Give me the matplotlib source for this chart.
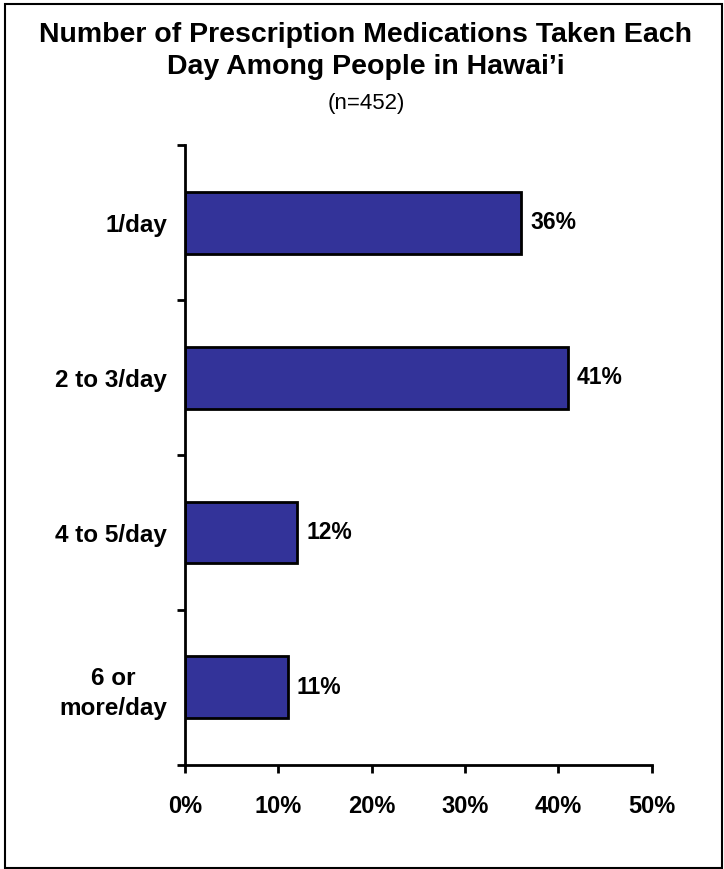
import matplotlib.pyplot as plt
from matplotlib.patches import Rectangle
import numpy as np

plt.rcParams['font.family'] = ['Liberation Sans', 'DejaVu Sans']

categories = ['1/day', '2 to 3/day', '4 to 5/day', '6 or\nmore/day']
percents = [36, 41, 12, 11]
xticks = [0, 10, 20, 30, 40, 50]

fig = plt.figure(figsize=(7.24, 8.69), dpi=100)
ax = fig.add_axes([0.2555, 0.1197, 0.6446, 0.7134])

pos = np.arange(len(categories))
ax.barh(pos, percents, height=0.4, color='#333399', edgecolor='black', linewidth=2)
for p, v in zip(pos, percents):
    ax.text(v + 1.0, p, '%d%%' % v, va='center', ha='left', fontsize=16.5, fontweight='bold')

ax.set_ylim(len(categories) - 0.5, -0.5)
ax.set_xlim(0, 50)

# category ticks sit between bars, labels at bar centres
ax.set_yticks(np.arange(-0.5, len(categories), 1.0))
ax.set_yticklabels([])
ax.tick_params(axis='y', which='major', length=6, width=2, direction='out')
ax.set_yticks(pos, minor=True)
ax.set_yticklabels(categories, minor=True, fontsize=17.5, fontweight='bold',
                   multialignment='center', linespacing=1.4)
ax.tick_params(axis='y', which='minor', length=0, pad=13)

ax.set_xticks(xticks)
ax.set_xticklabels(['%d%%' % t for t in xticks], fontsize=17, fontweight='bold')
ax.tick_params(axis='x', length=6, width=2, direction='out', pad=15.5)

for s in ['top', 'right']:
    ax.spines[s].set_visible(False)
for s in ['left', 'bottom']:
    ax.spines[s].set_linewidth(2)

fig.text(0.5055, 0.952, 'Number of Prescription Medications Taken Each', ha='center', va='baseline',
         fontsize=20.5, fontweight='bold')
fig.text(0.5055, 0.915, 'Day Among People in Hawai\u2019i', ha='center', va='baseline',
         fontsize=20.5, fontweight='bold')
fig.text(0.5055, 0.8746, '(n=452)', ha='center', va='baseline', fontsize=16)

fig.patches.append(Rectangle((0.0069, 0.0015), 0.990, 0.9940, transform=fig.transFigure,
                             fill=False, edgecolor='black', linewidth=1.5))

fig.savefig('out.png', dpi=100)
